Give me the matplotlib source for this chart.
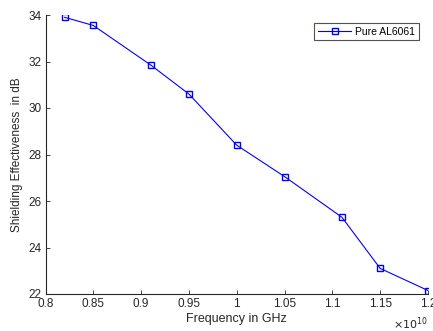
import matplotlib
matplotlib.use("Agg")
import matplotlib.pyplot as plt
from matplotlib.ticker import FuncFormatter

plt.rcParams['font.family'] = ['Liberation Sans', 'DejaVu Sans']

freq = [0.82e10, 0.85e10, 0.91e10, 0.95e10, 1.00e10, 1.05e10, 1.11e10, 1.15e10, 1.20e10]
se_db = [33.9, 33.55, 31.85, 30.6, 28.4, 27.05, 25.3, 23.1, 22.15]
xticks = [0.8e10, 0.85e10, 0.9e10, 0.95e10, 1.0e10, 1.05e10, 1.1e10, 1.15e10, 1.2e10]
yticks = [22, 24, 26, 28, 30, 32, 34]

fig = plt.figure(figsize=(4.33, 3.31), dpi=100)
ax = fig.add_axes([45.5/433, (331-294)/331, (428-45.5)/433, (294-15)/331])

ax.plot(freq, se_db, color='#0000ff', marker='s', markersize=5, markerfacecolor='none',
        markeredgecolor='#0000ff', linewidth=0.8, label='Pure AL6061')

ax.set_xlim(0.8e10, 1.2e10)
ax.set_ylim(22, 34)
ax.set_xticks(xticks)
ax.set_yticks(yticks)
ax.xaxis.set_major_formatter(FuncFormatter(lambda v, p: ('%g' % (v / 1e10))))
ax.tick_params(direction='in', length=3, width=0.6, labelsize=8.5, colors='#262626', pad=3)
for s in ['top', 'right']:
    ax.spines[s].set_visible(False)
for s in ['left', 'bottom']:
    ax.spines[s].set_linewidth(0.8)
    ax.spines[s].set_color('#262626')

ax.set_xlabel('Frequency in GHz', fontsize=9, color='#262626', labelpad=2)
ax.set_ylabel('Shielding Effectiveness  in dB', fontsize=8.5, color='#262626', labelpad=4)
ax.text(1.0, -0.075, r'$\times10^{10}$', transform=ax.transAxes, ha='right', va='top',
        fontsize=8, color='#262626')

leg = ax.legend(loc='upper right', bbox_to_anchor=(419/433, (331-23)/331),
                bbox_transform=fig.transFigure, fontsize=7.5, frameon=True, fancybox=False,
                edgecolor='#262626', handlelength=3.2, borderpad=0.35, handletextpad=0.4,
                borderaxespad=0)
leg.get_frame().set_linewidth(0.8)

fig.savefig('out.png', dpi=100)
